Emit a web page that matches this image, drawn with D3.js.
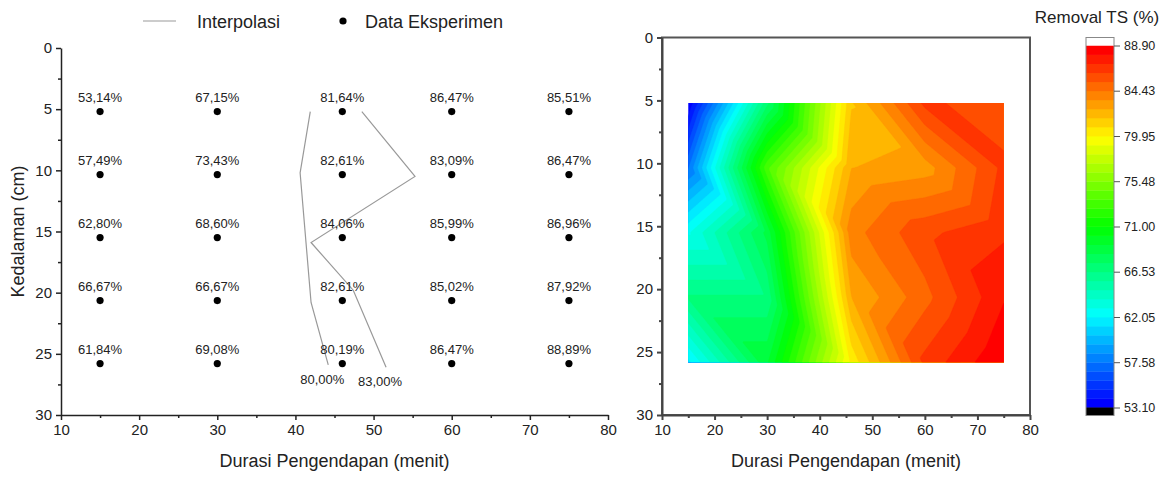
<!DOCTYPE html>
<html>
<head>
<meta charset="utf-8">
<script src="https://cdn.jsdelivr.net/npm/d3@7"></script>
<style>
  body { margin: 0; background: #fff; }
  text { font-family: "Liberation Sans", Arial, sans-serif; fill: #222; }
</style>
</head>
<body>
<div id="chart"></div>
<script>
// durations (menit) and depths (cm) of the measuring grid
const durations = [15, 30, 46, 60, 75];
const depths = [5.2, 10.35, 15.5, 20.65, 25.8];
// removal TS (%) per depth row, one value per duration
const removal = [
  [53.14, 67.15, 81.64, 86.47, 85.51],
  [57.49, 73.43, 82.61, 83.09, 86.47],
  [62.80, 68.60, 84.06, 85.99, 86.96],
  [66.67, 66.67, 82.61, 85.02, 87.92],
  [61.84, 69.08, 80.19, 86.47, 88.89]
];
// interpolation lines, [duration, depth]
const line80 = [[41.9, 5.2], [40.6, 10.2], [42.0, 20.8], [44.2, 25.9]];
const line83 = [[48.5, 5.2], [55.3, 10.5], [42.0, 15.9], [47.4, 19.8], [51.6, 26.1]];
const lineLabels = ["80,00%", "83,00%"];

const xTicks = [10, 20, 30, 40, 50, 60, 70, 80];
const yTicks = [0, 5, 10, 15, 20, 25, 30];
const colorTicks = [88.90, 84.43, 79.95, 75.48, 71.00, 66.53, 62.05, 57.58, 53.10];
const colorMin = 53.10, colorMax = 88.90, levels = 40;

const W = 1175, H = 477;
const svg = d3.select("#chart").append("svg")
  .attr("width", W).attr("height", H);

const pct = v => d3.format(".2f")(v).replace(".", ",") + "%";
const minor = ticks => ticks.slice(1).map((t, i) => (t + ticks[i]) / 2);

function axes(g, x, y, color, width) {
  const bottom = y(30);
  const left = x(10);
  const gx = g.append("g").attr("transform", "translate(0," + bottom + ")");
  gx.call(d3.axisBottom(x).tickValues(xTicks).tickSize(5).tickSizeOuter(0).tickPadding(4));
  gx.append("g").call(d3.axisBottom(x).tickValues(minor(xTicks)).tickSize(3).tickFormat(""))
    .select(".domain").remove();
  const gy = g.append("g").attr("transform", "translate(" + left + ",0)");
  gy.call(d3.axisLeft(y).tickValues(yTicks).tickSize(5).tickSizeOuter(0).tickPadding(4));
  gy.append("g").call(d3.axisLeft(y).tickValues(minor(yTicks)).tickSize(3).tickFormat(""))
    .select(".domain").remove();
  g.selectAll(".domain, .tick line").attr("stroke", color).attr("stroke-width", width);
  g.selectAll(".tick text").attr("font-size", 15).attr("fill", "#222")
    .attr("font-family", "Liberation Sans, Arial, sans-serif");
}

// ---------- left panel: experimental points ----------
const xL = d3.scaleLinear().domain([10, 80]).range([61, 608]);
const yL = d3.scaleLinear().domain([0, 30]).range([48, 415]);
const left = svg.append("g");
axes(left, xL, yL, "#222", 1.5);

const line = d3.line().x(d => xL(d[0])).y(d => yL(d[1]));
[line80, line83].forEach((pts, i) => {
  left.append("path").attr("d", line(pts))
    .attr("fill", "none").attr("stroke", "#999").attr("stroke-width", 1.2);
  const end = pts[pts.length - 1];
  left.append("text")
    .attr("x", xL(end[0]) - 6).attr("y", yL(end[1]) + 19)
    .attr("text-anchor", "middle").attr("font-size", 13)
    .text(lineLabels[i]);
});

const points = [];
depths.forEach((d, r) => durations.forEach((t, c) => points.push({t, d, v: removal[r][c]})));

left.selectAll("circle.pt").data(points).join("circle")
  .attr("class", "pt")
  .attr("cx", p => xL(p.t)).attr("cy", p => yL(p.d)).attr("r", 3.6)
  .attr("fill", "#000");
left.selectAll("text.pt").data(points).join("text")
  .attr("class", "pt")
  .attr("x", p => xL(p.t)).attr("y", p => yL(p.d) - 10)
  .attr("text-anchor", "middle").attr("font-size", 13)
  .text(p => pct(p.v));

left.append("text")
  .attr("transform", "translate(24," + (yL(15)) + ") rotate(-90)")
  .attr("text-anchor", "middle").attr("font-size", 18)
  .text("Kedalaman (cm)");
left.append("text")
  .attr("x", (xL(10) + xL(80)) / 2).attr("y", 467)
  .attr("text-anchor", "middle").attr("font-size", 18)
  .text("Durasi Pengendapan (menit)");

// legend
const legend = svg.append("g");
legend.append("line").attr("x1", 143).attr("x2", 176).attr("y1", 21).attr("y2", 21)
  .attr("stroke", "#999").attr("stroke-width", 1.2);
legend.append("text").attr("x", 197).attr("y", 27.5).attr("font-size", 18).text("Interpolasi");
legend.append("circle").attr("cx", 343).attr("cy", 21).attr("r", 3.6).attr("fill", "#000");
legend.append("text").attr("x", 365).attr("y", 27.5).attr("font-size", 18).text("Data Eksperimen");

// ---------- right panel: filled contour ----------
const xR = d3.scaleLinear().domain([10, 80]).range([662, 1030]);
const yR = d3.scaleLinear().domain([0, 30]).range([37.5, 415]);
const right = svg.append("g");

const step = (colorMax - colorMin) / levels;
const bandColor = k => d3.hsl(240 * (1 - k / (levels - 1)), 1, 0.5).formatHex();

// linear interpolation on triangles of the measuring grid
function cellIndex(arr, v) {
  let i = d3.bisectRight(arr, v) - 1;
  return Math.max(0, Math.min(arr.length - 2, i));
}
function valueAt(t, d) {
  const c = cellIndex(durations, t), r = cellIndex(depths, d);
  const u = (t - durations[c]) / (durations[c + 1] - durations[c]);
  const v = (d - depths[r]) / (depths[r + 1] - depths[r]);
  const tl = removal[r][c], tr = removal[r][c + 1];
  const bl = removal[r + 1][c], br = removal[r + 1][c + 1];
  if (u >= v) return tl + u * (tr - tl) + v * (br - tr);
  return tl + v * (bl - tl) + u * (br - bl);
}

const t0 = durations[0], t1 = durations[durations.length - 1];
const d0 = depths[0], d1 = depths[depths.length - 1];
const n = Math.round(xR(t1) - xR(t0)) + 1;
const m = Math.round(yR(d1) - yR(d0)) + 1;
const dt = (t1 - t0) / (n - 1), dd = (d1 - d0) / (m - 1);
const grid = new Float64Array(n * m);
for (let j = 0; j < m; j++)
  for (let i = 0; i < n; i++)
    grid[j * n + i] = valueAt(t0 + i * dt, d0 + j * dd);

const thresholds = d3.range(levels).map(k => colorMin + k * step);
const contours = d3.contours().size([n, m]).thresholds(thresholds)(grid);
const proj = d3.geoTransform({
  point: function (px, py) {
    this.stream.point(xR(t0 + (px - 0.5) * dt), yR(d0 + (py - 0.5) * dd));
  }
});
const path = d3.geoPath(proj);

svg.append("clipPath").attr("id", "heat")
  .append("rect")
  .attr("x", xR(t0)).attr("y", yR(d0))
  .attr("width", xR(t1) - xR(t0)).attr("height", yR(d1) - yR(d0));

right.append("g").attr("clip-path", "url(#heat)")
  .selectAll("path").data(contours).join("path")
  .attr("d", path)
  .attr("fill", (c, k) => bandColor(k))
  .attr("stroke", (c, k) => bandColor(k)).attr("stroke-width", 0.3);

right.append("rect")
  .attr("x", xR(10)).attr("y", yR(0))
  .attr("width", xR(80) - xR(10)).attr("height", yR(30) - yR(0))
  .attr("fill", "none").attr("stroke", "#555").attr("stroke-width", 2);
axes(right, xR, yR, "#444", 2);

right.append("text")
  .attr("x", (xR(10) + xR(80)) / 2).attr("y", 467)
  .attr("text-anchor", "middle").attr("font-size", 18)
  .text("Durasi Pengendapan (menit)");

// ---------- colour scale ----------
const cb = d3.scaleLinear().domain([colorMin, colorMax]).range([407.5, 45.5]);
const cbX = 1086, cbW = 28, cap = 8;
const bar = svg.append("g");
bar.selectAll("rect.band").data(d3.range(levels)).join("rect")
  .attr("class", "band")
  .attr("x", cbX).attr("width", cbW)
  .attr("y", k => cb(colorMin + (k + 1) * step))
  .attr("height", k => cb(colorMin + k * step) - cb(colorMin + (k + 1) * step) + 0.4)
  .attr("fill", k => bandColor(k));
bar.append("rect").attr("x", cbX).attr("width", cbW)
  .attr("y", cb(colorMax) - cap).attr("height", cap).attr("fill", "#fff");
bar.append("rect").attr("x", cbX).attr("width", cbW)
  .attr("y", cb(colorMin)).attr("height", cap).attr("fill", "#000");
bar.append("rect").attr("x", cbX).attr("width", cbW)
  .attr("y", cb(colorMax) - cap).attr("height", cb(colorMin) - cb(colorMax) + 2 * cap)
  .attr("fill", "none").attr("stroke", "#888").attr("stroke-width", 1);

const gcb = bar.append("g").attr("transform", "translate(" + (cbX + cbW) + ",0)")
  .call(d3.axisRight(cb).tickValues(colorTicks).tickFormat(d3.format(".2f"))
    .tickSize(6).tickPadding(4));
gcb.select(".domain").remove();
gcb.selectAll(".tick line").attr("stroke", "#555");
gcb.selectAll(".tick text").attr("font-size", 12.5).attr("fill", "#222")
  .attr("font-family", "Liberation Sans, Arial, sans-serif");

bar.append("text")
  .attr("x", 1097).attr("y", 23)
  .attr("text-anchor", "middle").attr("font-size", 17)
  .text("Removal TS (%)");
</script>
</body>
</html>
